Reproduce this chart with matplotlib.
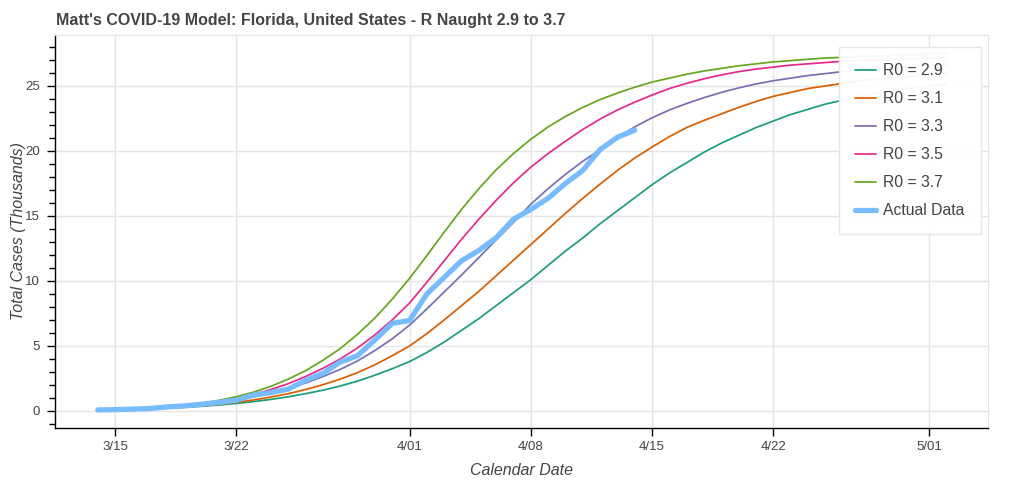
import matplotlib
matplotlib.use("Agg")
import matplotlib.pyplot as plt
from matplotlib.ticker import MultipleLocator
import pandas as pd

plt.rcParams['font.family'] = ['Liberation Sans', 'DejaVu Sans']

# ---------------- data (thousands of cases) ----------------
model_dates = pd.date_range("2020-03-14", "2020-05-02", freq="D")
actual_dates = pd.date_range("2020-03-14", "2020-04-14", freq="D")

r0_29 = [0.08, 0.10, 0.13, 0.17, 0.22, 0.28, 0.36, 0.46, 0.58, 0.72,
         0.89, 1.09, 1.33, 1.60, 1.92, 2.30, 2.75, 3.25, 3.80, 4.50,
         5.30, 6.20, 7.10, 8.10, 9.10, 10.10, 11.20, 12.30, 13.30, 14.40,
         15.40, 16.40, 17.40, 18.30, 19.10, 19.90, 20.60, 21.20, 21.80, 22.30,
         22.80, 23.20, 23.60, 23.90, 24.20, 24.45, 24.65, 24.85, 25.00, 25.15]
r0_31 = [0.08, 0.10, 0.14, 0.18, 0.24, 0.31, 0.40, 0.52, 0.67, 0.85,
         1.07, 1.33, 1.65, 2.02, 2.45, 2.95, 3.55, 4.25, 5.00, 5.95,
         7.00, 8.10, 9.20, 10.40, 11.60, 12.80, 14.00, 15.20, 16.35, 17.45,
         18.50, 19.45, 20.30, 21.10, 21.80, 22.35, 22.85, 23.35, 23.80, 24.20,
         24.50, 24.80, 25.00, 25.20, 25.40, 25.55, 25.65, 25.75, 25.85, 25.95]
r0_33 = [0.08, 0.11, 0.15, 0.20, 0.27, 0.36, 0.48, 0.64, 0.84, 1.08,
         1.38, 1.75, 2.15, 2.65, 3.20, 3.85, 4.65, 5.55, 6.60, 7.85,
         9.15, 10.45, 11.80, 13.15, 14.50, 15.90, 17.10, 18.20, 19.20, 20.10,
         21.00, 21.85, 22.55, 23.15, 23.65, 24.10, 24.50, 24.85, 25.15, 25.40,
         25.60, 25.80, 25.95, 26.10, 26.20, 26.30, 26.40, 26.50, 26.60, 26.65]
r0_35 = [0.08, 0.11, 0.15, 0.22, 0.30, 0.41, 0.55, 0.74, 0.98, 1.28,
         1.65, 2.10, 2.65, 3.28, 4.00, 4.85, 5.85, 7.00, 8.30, 9.90,
         11.55, 13.20, 14.75, 16.20, 17.55, 18.75, 19.80, 20.75, 21.65, 22.45,
         23.15, 23.75, 24.30, 24.80, 25.20, 25.55, 25.85, 26.10, 26.30, 26.45,
         26.60, 26.70, 26.80, 26.90, 26.95, 27.00, 27.05, 27.10, 27.15, 27.20]
r0_37 = [0.08, 0.11, 0.16, 0.23, 0.32, 0.44, 0.60, 0.82, 1.10, 1.45,
         1.90, 2.45, 3.10, 3.90, 4.80, 5.90, 7.15, 8.60, 10.20, 11.95,
         13.75, 15.50, 17.10, 18.55, 19.80, 20.90, 21.85, 22.65, 23.35, 23.95,
         24.45, 24.90, 25.30, 25.60, 25.90, 26.15, 26.35, 26.55, 26.70, 26.85,
         26.95, 27.05, 27.15, 27.20, 27.25, 27.30, 27.35, 27.40, 27.45, 27.50]
actual = [0.08, 0.10, 0.14, 0.19, 0.31, 0.39, 0.52, 0.66, 0.83, 1.23,
          1.41, 1.68, 2.36, 2.90, 3.76, 4.25, 5.47, 6.74, 6.96, 9.00,
          10.27, 11.55, 12.35, 13.32, 14.75, 15.50, 16.36, 17.50, 18.50, 20.10,
          21.05, 21.60]

series_labels = ["R0 = 2.9", "R0 = 3.1", "R0 = 3.3", "R0 = 3.5", "R0 = 3.7"]
series_values = [r0_29, r0_31, r0_33, r0_35, r0_37]
series_colors = ["#1b9e77", "#d95f02", "#7570b3", "#e7298a", "#66a61e"]

tick_dates = ["2020-03-15", "2020-03-22", "2020-04-01", "2020-04-08",
              "2020-04-15", "2020-04-22", "2020-05-01"]
tick_labels = ["3/15", "3/22", "4/01", "4/08", "4/15", "4/22", "5/01"]

title = "Matt's COVID-19 Model: Florida, United States - R Naught 2.9 to 3.7"
xlabel = "Calendar Date"
ylabel = "Total Cases (Thousands)"

# ---------------- figure ----------------
W, H = 1024, 482
fig = plt.figure(figsize=(W / 100, H / 100), dpi=100)
L, R, T, B = 55, 988, 35, 428
ax = fig.add_axes([L / W, 1 - B / H, (R - L) / W, (B - T) / H])

text_col = "#444444"
grid_col = "#e5e5e5"

for lab, vals, col in zip(series_labels, series_values, series_colors):
    ax.plot(model_dates, vals, color=col, lw=1.25, label=lab,
            solid_capstyle="round", solid_joinstyle="round")
ax.plot(actual_dates, actual, color="#78bcff", lw=3.8, label="Actual Data",
        solid_capstyle="round", solid_joinstyle="round")

ax.set_xlim(pd.Timestamp("2020-03-14") - pd.Timedelta(days=2.47),
            pd.Timestamp("2020-03-14") + pd.Timedelta(days=51.4))
ax.set_ylim(-1.31, 28.92)

ax.set_xticks(pd.to_datetime(tick_dates))
ax.set_xticklabels(tick_labels)
ax.yaxis.set_major_locator(MultipleLocator(5))
ax.yaxis.set_minor_locator(MultipleLocator(1))

ax.grid(True, which="major", color=grid_col, lw=1)
ax.set_axisbelow(True)

for s in ["top", "right"]:
    ax.spines[s].set_color(grid_col)
for s in ["left", "bottom"]:
    ax.spines[s].set_color("black")
    ax.spines[s].set_linewidth(1)

ax.tick_params(axis="both", which="major", direction="out", length=6, width=1,
               colors="black", labelcolor=text_col, labelsize=9.5)
ax.tick_params(axis="y", which="major", pad=5)
ax.tick_params(axis="x", which="major", pad=3)
ax.tick_params(axis="y", which="minor", direction="out", length=4, width=1, colors="black")

ax.set_xlabel(xlabel, fontsize=11.5, style="italic", color=text_col, labelpad=7.5)
ax.set_ylabel(ylabel, fontsize=11.5, style="italic", color=text_col, labelpad=-0.5)

fig.text(56 / W, 1 - 20 / H, title, fontsize=11.5, fontweight="bold",
         color=text_col, ha="left", va="center")

leg = ax.legend(loc="upper left", bbox_to_anchor=((839 - L) / (R - L), (B - 47) / (B - T)),
                fontsize=11.3, frameon=True, fancybox=False, framealpha=0.95,
                edgecolor=grid_col, handlelength=1.35, handletextpad=0.45,
                labelspacing=0.83, borderpad=1.02, borderaxespad=0)
for t in leg.get_texts():
    t.set_color(text_col)
leg.get_frame().set_linewidth(1)

fig.savefig("out.png", dpi=100)
